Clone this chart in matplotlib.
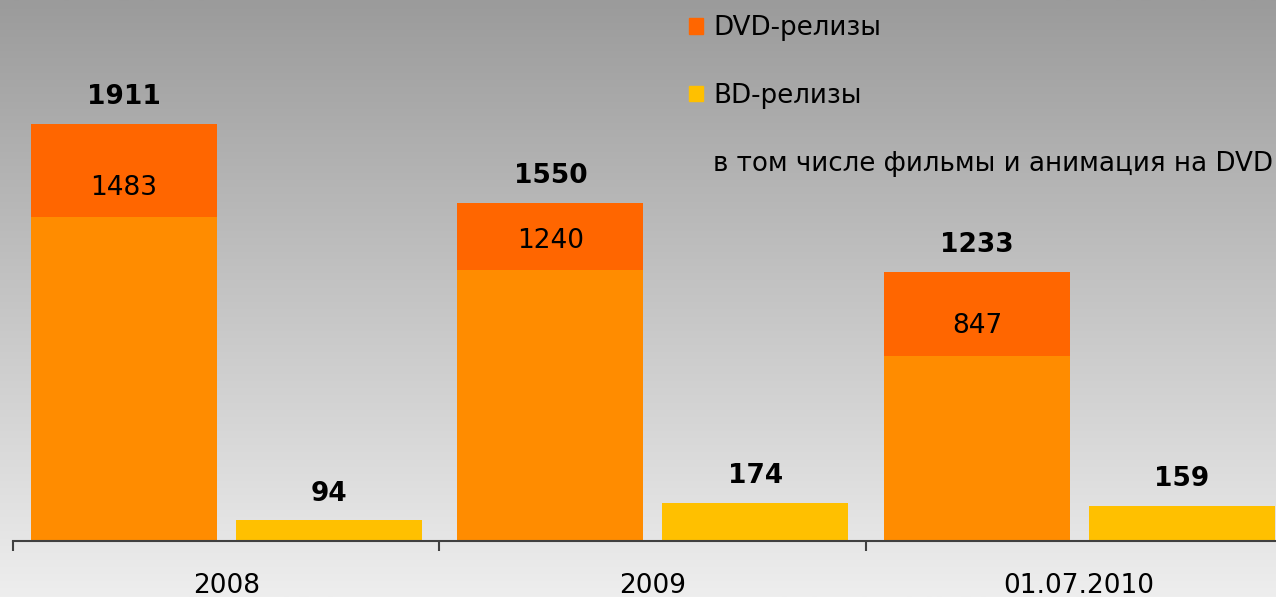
import matplotlib.pyplot as plt
import numpy as np
from matplotlib.patches import Patch

categories = ["2008", "2009", "01.07.2010"]
dvd_total = [1911, 1550, 1233]
dvd_films = [1483, 1240, 847]
bd_total = [94, 174, 159]

legend_labels = ["DVD-релизы", "BD-релизы", "в том числе фильмы и анимация на DVD"]

DVD_COLOR = "#ff6600"
FILMS_COLOR = "#ff8c00"
BD_COLOR = "#ffc000"

plt.rcParams["font.family"] = ["DejaVu Sans"]

fig = plt.figure(figsize=(12.76, 5.97), dpi=100)

# grey vertical gradient behind everything
bg = fig.add_axes([0, 0, 1, 1])
grad = np.linspace(155, 238, 256).reshape(-1, 1) / 255.0
bg.imshow(np.dstack([grad, grad, grad]), aspect="auto", extent=[0, 1, 0, 1])
bg.set_axis_off()

ax = fig.add_axes([13 / 1276, 56 / 597, 1279.5 / 1276, 541 / 597])
ax.patch.set_alpha(0)

x = np.arange(len(categories))
width = 0.436
off = 0.24

b_dvd = ax.bar(x - off, dvd_total, width, color=DVD_COLOR, label=legend_labels[0])
b_films = ax.bar(x - off, dvd_films, width, color=FILMS_COLOR)
b_bd = ax.bar(x + off, bd_total, width, color=BD_COLOR, label=legend_labels[1])

ax.bar_label(b_dvd, padding=10, fontsize=19, fontweight="bold")
ax.bar_label(b_bd, padding=10, fontsize=19, fontweight="bold")
ax.bar_label(b_films, padding=12, fontsize=19)

ax.set_xlim(-0.5, len(categories) - 0.5)
ax.set_ylim(0, 2479)

for side in ["left", "right", "top"]:
    ax.spines[side].set_visible(False)
ax.spines["bottom"].set_color("#404040")
ax.spines["bottom"].set_linewidth(1.5)

ax.set_yticks([])
ax.set_xticks(np.arange(len(categories) + 1) - 0.5)
ax.set_xticklabels([])
ax.tick_params(axis="x", which="major", length=7, width=1.5, color="#404040")
ax.set_xticks(x, minor=True)
ax.set_xticklabels(categories, minor=True, fontsize=19)
ax.tick_params(axis="x", which="minor", length=0, pad=23)

handles = [
    Patch(color=DVD_COLOR),
    Patch(color=BD_COLOR),
    Patch(color="none"),
]
fig.legend(handles, legend_labels, loc="upper left",
           bbox_to_anchor=(689 / 1276, 1 - 15 / 597),
           frameon=False, fontsize=18.8, handlelength=0.55, handleheight=0.55,
           handletextpad=0.38, labelspacing=1.6, borderpad=0, borderaxespad=0)

fig.savefig("out.png", dpi=100)
